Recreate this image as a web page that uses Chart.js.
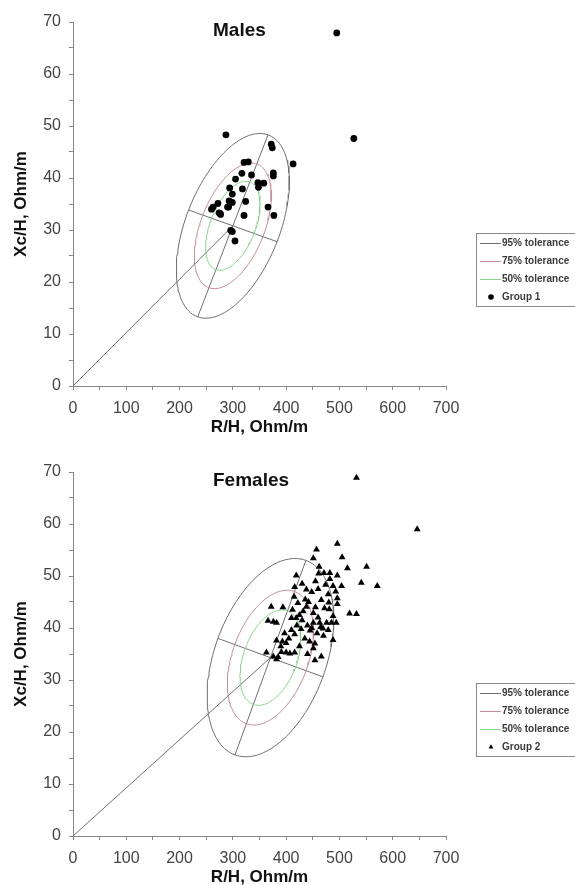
<!DOCTYPE html>
<html>
<head>
<meta charset="utf-8">
<script src="https://cdn.jsdelivr.net/npm/chart.js@4.4.1/dist/chart.umd.min.js"></script>
<style>
    html, body { margin: 0; padding: 0; background: #fff; overflow: hidden; }
    canvas { display: block; }
</style>
</head>
<body>
<canvas id="males" width="575" height="450"></canvas>
<canvas id="females" width="575" height="450"></canvas>
<script>
// axis ranges (R/H and Xc/H, Ohm/m)
const xMin = 0, xMax = 700, xStep = 50, xLabelEvery = 100;
const yMin = 0, yMax = 70, yStep = 5, yLabelEvery = 10;

// tolerance ellipses: 95% semi-axis vectors, the others scaled from it
const toleranceLabels = ['95% tolerance', '75% tolerance', '50% tolerance'];
const toleranceScale = [1, 0.68, 0.481];
const toleranceColors = ['#6e6e6e', '#c48c94', '#86d486'];

// Males (Group 1)
const malesCenter = [300, 30.8];
const malesMajor = [66, 17.5];
const malesMinor = [83, -3.05];
const malesR = [287, 527, 372, 374, 413, 321, 329, 317, 335, 376, 376, 305, 347, 358, 348, 294, 318, 299,
    324, 293, 299, 272, 292, 263, 260, 274, 277, 366, 321, 377, 296, 299, 304, 495, 290, 276];
const malesXc = [48.3, 47.6, 46.5, 45.8, 42.7, 43.0, 43.1, 40.9, 40.6, 41.0, 40.4, 39.8, 39.1, 39.0, 38.2, 38.1, 37.9, 36.9,
    35.5, 35.6, 35.3, 35.1, 34.4, 34.4, 34.0, 33.3, 33.0, 34.4, 32.8, 32.8, 29.9, 29.7, 27.9, 67.9, 34.4, 33.2];

// Females (Group 2)
const femalesCenter = [370.5, 34.3];
const femalesMajor = [66.5, 18.7];
const femalesMinor = [98.5, -3.7];
const femalesR = [532, 646, 496, 457, 505, 451, 551, 515, 462, 461, 471, 482, 419, 482, 496, 541, 571, 504, 488, 416,
    438, 448, 493, 479, 415, 466, 480, 496, 496, 372, 394, 438, 472, 481, 519, 532, 451, 488,
    366, 376, 382, 410, 419, 451, 463, 476, 485, 494, 469, 479, 397, 410, 416, 435, 444, 454, 488, 451,
    382, 393, 400, 363, 391, 400, 407, 416, 376, 382, 385, 454, 466,
    425, 430, 440, 445, 428, 420, 432, 442, 455, 460, 465, 470, 458, 448, 425, 405, 412, 422, 436, 460, 474, 455, 430, 440, 390];
const femalesXc = [68.9, 59.0, 56.2, 55.1, 53.6, 53.4, 51.8, 51.5, 51.8, 50.5, 50.6, 50.6, 50.1, 49.4, 50.1, 48.7, 48.1, 48.1, 48.1, 47.9,
    47.4, 46.9, 47.0, 46.5, 46.0, 45.4, 44.9, 45.7, 44.6, 44.1, 44.0, 44.1, 43.8, 43.6, 42.8, 42.7, 42.9, 42.3,
    41.4, 41.2, 41.0, 41.9, 41.9, 41.0, 41.0, 41.0, 41.0, 41.0, 39.9, 39.6, 39.0, 39.6, 38.8, 38.0, 37.4, 37.0, 37.7, 36.1,
    37.6, 37.4, 37.1, 35.3, 35.4, 35.3, 35.1, 35.3, 34.5, 34.0, 34.4, 33.8, 34.5,
    42.5, 41.5, 40.5, 39.5, 39.8, 40.5, 43.2, 45.0, 44.0, 42.0, 40.2, 38.5, 39.0, 40.0, 36.5, 38.0, 43.5, 44.8, 45.5, 47.5, 48.3, 49.0, 48.5, 35.0, 36.5];

function ellipse(center, major, minor, k) {
    var pts = [];
    for (var i = 0; i <= 144; i++) {
        var t = i / 144 * 2 * Math.PI;
        pts.push({
            x: center[0] + k * (major[0] * Math.cos(t) + minor[0] * Math.sin(t)),
            y: center[1] + k * (major[1] * Math.cos(t) + minor[1] * Math.sin(t))
        });
    }
    return pts;
}

function segment(center, v) {
    return [{ x: center[0] - v[0], y: center[1] - v[1] }, { x: center[0] + v[0], y: center[1] + v[1] }];
}

const lineClr = '#707070';
const font = "'Liberation Sans', Arial, sans-serif";

function makeChart(id, title, groupLabel, pointStyle, radius, rs, xcs, center, major, minor) {
    var points = rs.map(function (r, i) { return { x: r, y: xcs[i] }; });
    var lineSet = function (data, color) {
        return { data: data, showLine: true, borderColor: color, borderWidth: 1, pointRadius: 0, tension: 0, fill: false };
    };
    var datasets = [{
        label: groupLabel,
        data: points,
        pointStyle: pointStyle,
        pointRadius: radius,
        backgroundColor: '#000',
        borderColor: '#000',
        borderWidth: 0,
        showLine: false
    }];
    toleranceLabels.forEach(function (lbl, i) {
        var ds = lineSet(ellipse(center, major, minor, toleranceScale[i]), toleranceColors[i]);
        ds.label = lbl;
        datasets.push(ds);
    });
    datasets.push(lineSet(segment(center, major), lineClr));
    datasets.push(lineSet(segment(center, minor), lineClr));
    datasets.push(lineSet([{ x: 0, y: 0 }, { x: center[0], y: center[1] }], lineClr));

    var decor = {
        id: 'decor',
        afterDraw: function (chart) {
            var ctx = chart.ctx;
            ctx.save();
            ctx.fillStyle = '#111';
            ctx.font = 'bold 19px ' + font;
            ctx.textBaseline = 'middle';
            ctx.textAlign = 'left';
            ctx.fillText(title, 213, 31);

            // legend box
            var lx = 476.5, ly = 233.5;
            ctx.strokeStyle = '#8a8a8a';
            ctx.lineWidth = 1;
            ctx.strokeRect(lx, ly, 110, 73);
            ctx.font = 'bold 10px ' + font;
            toleranceLabels.forEach(function (lbl, i) {
                var y = ly + 9.5 + i * 18;
                ctx.strokeStyle = toleranceColors[i];
                ctx.lineWidth = 1;
                ctx.beginPath();
                ctx.moveTo(480, Math.round(y) + 0.5);
                ctx.lineTo(501, Math.round(y) + 0.5);
                ctx.stroke();
                ctx.fillStyle = '#3a3a3a';
                ctx.fillText(lbl, 502, y);
            });
            var gy = ly + 9.5 + 3 * 18;
            ctx.fillStyle = '#000';
            Chart.helpers.drawPoint(ctx, { pointStyle: pointStyle, radius: 2.8, borderWidth: 0 }, 491, gy);
            ctx.fillStyle = '#3a3a3a';
            ctx.fillText(groupLabel, 502, gy);
            ctx.restore();
        }
    };

    return new Chart(document.getElementById(id), {
        type: 'scatter',
        data: { datasets: datasets },
        options: {
            responsive: false,
            animation: false,
            layout: { padding: { left: 0, right: 129, top: 22, bottom: 0 } },
            plugins: { legend: { display: false }, tooltip: { enabled: false } },
            scales: {
                x: {
                    type: 'linear',
                    min: xMin,
                    max: xMax,
                    afterFit: function (s) { s.height = 64; },
                    border: { color: '#888', width: 1 },
                    grid: { drawOnChartArea: false, drawTicks: true, tickLength: 4, color: '#888' },
                    ticks: {
                        stepSize: xStep,
                        autoSkip: false,
                        maxRotation: 0,
                        padding: 9,
                        color: '#444',
                        font: { family: font, size: 16 },
                        callback: function (v) { return v % xLabelEvery === 0 ? v : ''; }
                    },
                    title: {
                        display: true,
                        text: 'R/H, Ohm/m',
                        color: '#111',
                        font: { family: font, size: 17, weight: 'bold' },
                        padding: { top: 0, bottom: 12 }
                    }
                },
                y: {
                    type: 'linear',
                    min: yMin,
                    max: yMax,
                    afterFit: function (s) { s.width = 73; },
                    border: { color: '#888', width: 1 },
                    grid: { drawOnChartArea: false, drawTicks: true, tickLength: 4, color: '#888' },
                    ticks: {
                        stepSize: yStep,
                        autoSkip: false,
                        padding: 8,
                        color: '#444',
                        font: { family: font, size: 16 },
                        callback: function (v) { return v % yLabelEvery === 0 ? v : ''; }
                    },
                    title: {
                        display: true,
                        text: 'Xc/H, Ohm/m',
                        color: '#111',
                        font: { family: font, size: 17, weight: 'bold' },
                        padding: { top: 11, bottom: 0 }
                    }
                }
            }
        },
        plugins: [decor]
    });
}

makeChart('males', 'Males', 'Group 1', 'circle', 3.4, malesR, malesXc, malesCenter, malesMajor, malesMinor);
makeChart('females', 'Females', 'Group 2', 'triangle', 4, femalesR, femalesXc, femalesCenter, femalesMajor, femalesMinor);
</script>
</body>
</html>
